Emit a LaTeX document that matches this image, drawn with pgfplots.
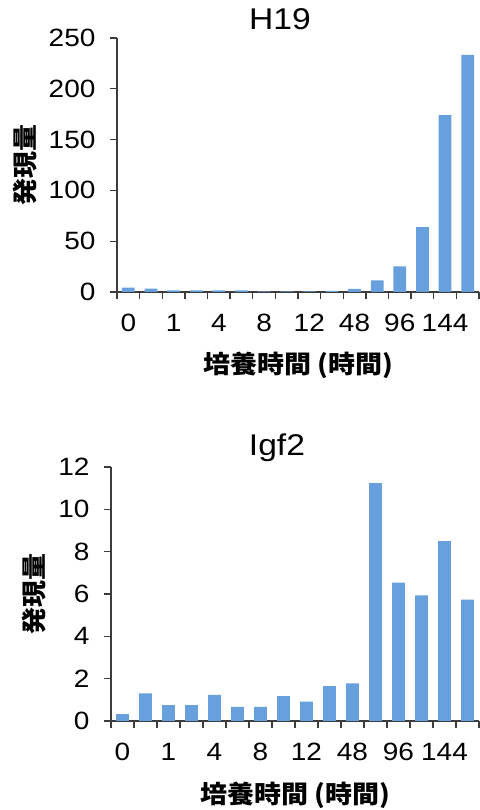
\documentclass[border=0pt]{standalone}
\usepackage{pgfplots}
\pgfplotsset{compat=1.18}
\usepackage{fontspec}
\setmainfont{Liberation Sans}[FakeStretch=1.12]
\newfontfamily\cjk{Noto Sans CJK JP}[FakeStretch=1.08]
\definecolor{barblue}{RGB}{103,160,220}
\definecolor{axgray}{RGB}{60,60,60}
\pgfplotsset{
  mybars/.style={
    scale only axis,
    width=#1,
    height=254pt,
    axis x line*=bottom,
    axis y line*=left,
    axis line style={-,draw=axgray,line width=1.3pt},
    tick align=outside,
    tick style={draw=axgray,line width=1.3pt},
    major tick length=7pt,
    xmin=-0.5, xmax=15.5,
    ymin=0,
    xtick={-0.5,0.5,...,15.5},
    xticklabels={},
    extra x ticks={0,2,...,14},
    extra x tick labels={0,1,4,8,12,48,96,144},
    extra x tick style={major tick length=0pt},
    /pgf/number format/assume math mode=true,
    ticklabel style={font=\fontsize{25}{29}\selectfont},
    xticklabel style={yshift=-19pt},
    yticklabel style={xshift=-11pt},
    xlabel={\cjk\bfseries 培養時間 (時間)},
    ylabel={\cjk\bfseries 発現量},
    label style={font=\fontsize{25}{29}\selectfont},
    ybar, bar width=12.7pt,
  }
}
\begin{document}
\begin{tikzpicture}
\path[use as bounding box] (0,0) rectangle (479pt,810pt);
% Top: H19
\begin{axis}[mybars=362pt,
  at={(117pt,518pt)}, anchor=south west,
  ymax=250, ytick={0,50,...,250},
  title={H19},
  title style={at={(axis description cs:0.45,1.051)},anchor=center,font=\fontsize{30}{34}\selectfont},
  xlabel style={at={(axis description cs:0.5,-0.287)},anchor=center},
  ylabel style={at={(axis description cs:-0.254,0.5)},anchor=center},
]
\addplot[fill=barblue,draw=none] coordinates {
(0,4.3) (1,3.3) (2,1.5) (3,1.5) (4,1.5) (5,1.5) (6,0.5) (7,0.5)
(8,0.5) (9,1.0) (10,3.0) (11,11.5) (12,25.3) (13,63.8) (14,174) (15,233.5)};
\end{axis}
% Bottom: Igf2
\begin{axis}[mybars=368pt,
  at={(111pt,89pt)}, anchor=south west,
  ymax=12, ytick={0,2,...,12},
  title={Igf2},
  title style={at={(axis description cs:0.451,1.051)},anchor=center,font=\fontsize{30}{34}\selectfont},
  xlabel style={at={(axis description cs:0.5,-0.291)},anchor=center},
  ylabel style={at={(axis description cs:-0.209,0.5)},anchor=center},
]
\addplot[fill=barblue,draw=none] coordinates {
(0,0.33) (1,1.3) (2,0.75) (3,0.75) (4,1.23) (5,0.67) (6,0.67) (7,1.18)
(8,0.91) (9,1.65) (10,1.78) (11,11.24) (12,6.54) (13,5.93) (14,8.5) (15,5.74)};
\end{axis}
\end{tikzpicture}
\end{document}
